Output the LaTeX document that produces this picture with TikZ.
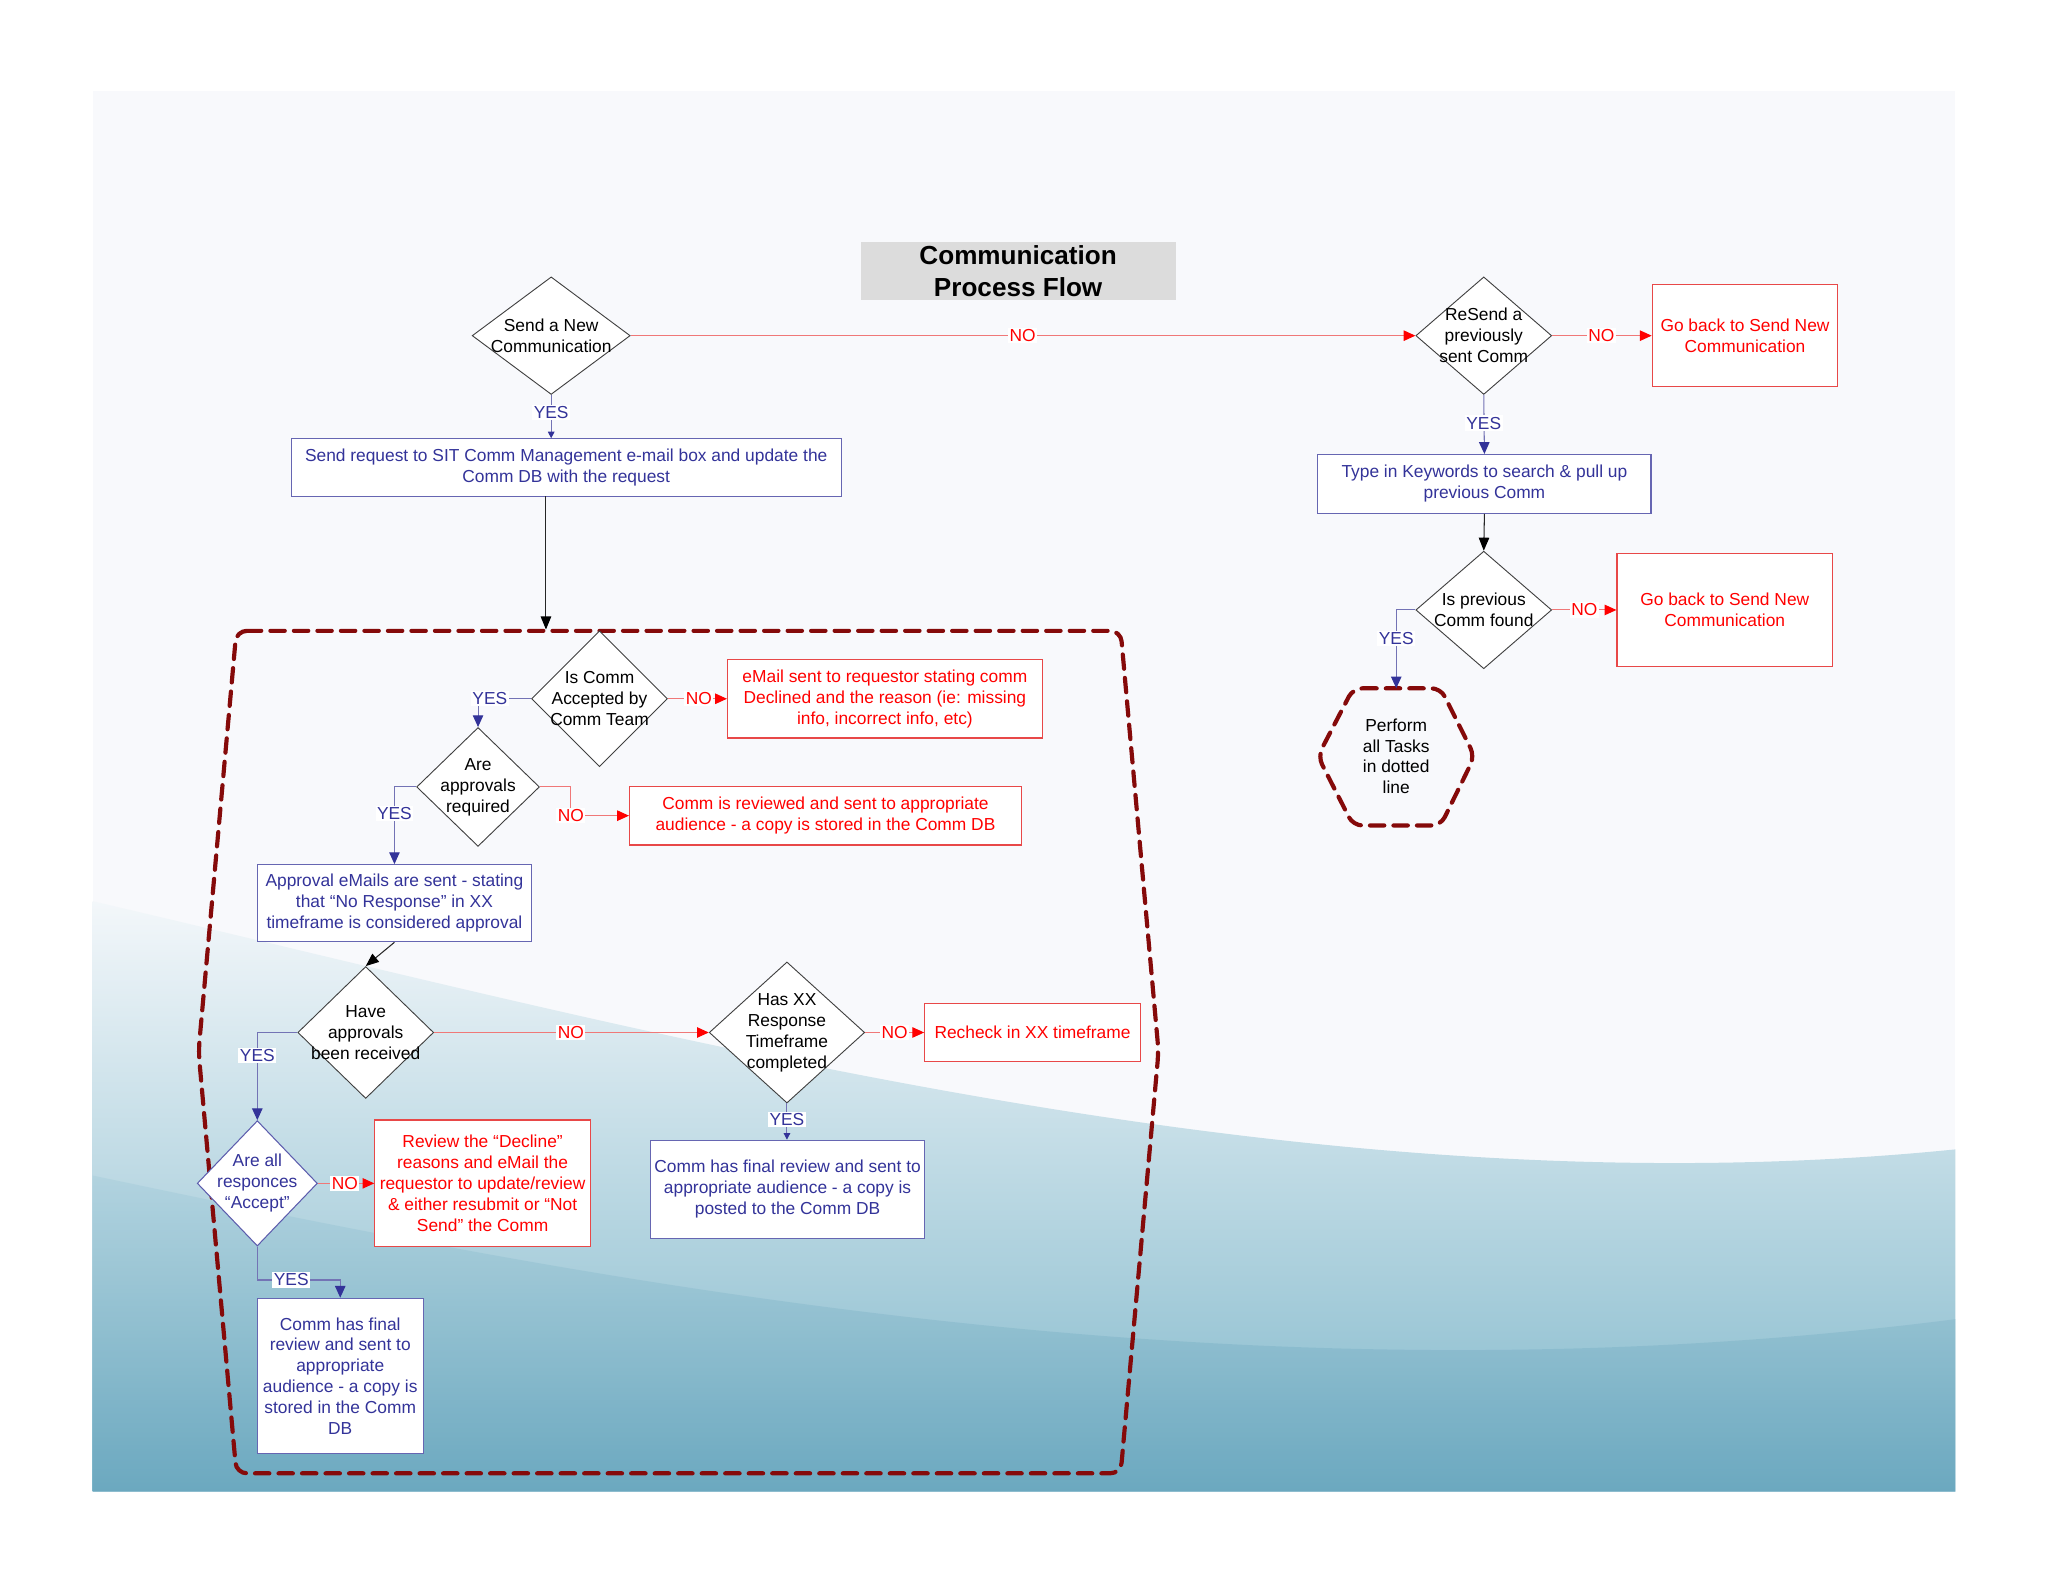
\documentclass[tikz,border=0pt]{standalone}
\usepackage{fontspec}
\setmainfont{Liberation Sans}
\usetikzlibrary{shapes.geometric,arrows.meta,calc}
\definecolor{tblue}{HTML}{333399}
\definecolor{lblue}{HTML}{7373B5}
\definecolor{tred}{HTML}{FF0000}
\definecolor{lred}{HTML}{F07878}
\definecolor{bred}{HTML}{E84848}
\definecolor{dred}{HTML}{850A0A}
\definecolor{dgray}{HTML}{404040}
\definecolor{tgray}{HTML}{DCDCDC}
\definecolor{bgtop}{HTML}{F8F9FC}
\definecolor{bgwave}{HTML}{F3F7FA}
\definecolor{teal1}{HTML}{7FB7CA}
\definecolor{teal2}{HTML}{5C9DB7}
\definecolor{teal3}{HTML}{A9CFDC}
\begin{document}
\begin{tikzpicture}[x=1pt,y=-1pt,
  font=\fontsize{13.3}{16}\selectfont,
  dia/.style={diamond, draw=dgray, line width=0.7pt, fill=white, inner sep=0pt},
  bluedia/.style={diamond, draw=tblue!80, line width=0.8pt, fill=white, inner sep=0pt},
  txt/.style={align=center, inner sep=0pt},
  bbox/.style={draw=tblue!75, fill=white, line width=0.9pt, align=center, text=tblue, inner sep=0pt},
  rbox/.style={draw=bred, fill=white, line width=0.9pt, align=center, text=tred, inner sep=0pt},
  yesline/.style={draw=lblue, line width=0.8pt, -{Triangle[length=9pt,width=8pt,color=tblue]}},
  smallyes/.style={draw=lblue, line width=0.8pt, -{Triangle[length=5pt,width=5pt,color=tblue]}},
  noline/.style={draw=lred, line width=0.8pt, -{Triangle[length=9pt,width=8pt,color=tred]}},
  blkline/.style={draw=black!85, line width=0.8pt, -{Triangle[length=10pt,width=8pt,color=black]}},
  yeslab/.style={fill=white, inner sep=1.2pt, text=tblue},
  nolab/.style={fill=white, inner sep=1.2pt, text=tred},
  dashreg/.style={draw=dred, line width=3.2pt, dash pattern=on 11pt off 7pt, line cap=round, rounded corners=8pt}
]
\useasboundingbox (0,0) rectangle (1568,1214);
\fill[white] (0,0) rectangle (1568,1214);
% background
\fill[bgtop] (71,70) rectangle (1497,1142);
\shade[top color=bgwave, bottom color=teal1]
  (71,690) .. controls (500,790) and (1000,930) .. (1497,880) -- (1497,1142) -- (71,1142) -- cycle;
\shade[top color=teal3, bottom color=teal2, opacity=0.55]
  (71,900) .. controls (450,980) and (950,1080) .. (1497,1010) -- (1497,1142) -- (71,1142) -- cycle;

% title
\node[fill=tgray, minimum width=241pt, minimum height=45pt, align=center, inner sep=0pt,
  font=\fontsize{20}{24}\selectfont\bfseries] (title) at (779.5,207.5) {Communication\\Process Flow};

% dashed region
\draw[dashreg] (181,483) -- (858,483) -- (887,805) -- (858,1128) -- (181,1128) -- (152,805) -- cycle;

% small hexagon
\draw[dashreg, rounded corners=7pt] (1036,527) -- (1103,527) -- (1129,579) -- (1103,632) -- (1036,632) -- (1009,579) -- cycle;
\node[txt] (hex) at (1069,579) {Perform\\all Tasks\\in dotted\\line};
\coordinate (hextop) at (1069,527);

% diamonds
\node[dia, minimum width=121pt, minimum height=90pt] (d1) at (422,257) {};
\node[txt] (d1t) at (d1) {Send a New\\Communication};
\node[dia, minimum width=104pt, minimum height=90pt] (d2) at (1136,257) {};
\node[txt] (d2t) at (d2) {ReSend a\\previously\\sent Comm};
\node[dia, minimum width=104pt, minimum height=90pt] (d3) at (1136,467) {};
\node[txt] (d3t) at (d3) {Is previous\\Comm found};
\node[dia, minimum width=104pt, minimum height=104pt] (d4) at (459,535) {};
\node[txt] (d4t) at (d4) {Is Comm\\Accepted by\\Comm Team};
\node[dia, minimum width=94pt, minimum height=91pt] (d5) at (366,602.5) {};
\node[txt] (d5t) at (d5) {Are\\approvals\\required};
\node[dia, minimum width=104pt, minimum height=101pt] (d6) at (280,790.5) {};
\node[txt] (d6t) at (d6) {Have\\approvals\\been received};
\node[dia, minimum width=119pt, minimum height=108pt] (d7) at (602.5,790.5) {};
\node[txt] (d7t) at (d7) {Has XX\\Response\\Timeframe\\completed};
\node[bluedia, minimum width=92pt, minimum height=96pt] (d8) at (197,906) {};
\node[txt, text=tblue] (d8t) at (d8) {Are all\\responces\\“Accept”};

% boxes
\node[bbox, minimum width=421pt, minimum height=44pt] (rsend) at (433.5,358) {Send request to SIT Comm Management e-mail box and update the\\Comm DB with the request};
\node[rbox, minimum width=142pt, minimum height=78pt] (r1) at (1336,257) {Go back to Send New\\Communication};
\node[bbox, minimum width=255pt, minimum height=45pt] (r2) at (1136.5,370.5) {Type in Keywords to search \& pull up\\previous Comm};
\node[rbox, minimum width=165pt, minimum height=86pt] (r3) at (1320.5,467) {Go back to Send New\\Communication};
\node[rbox, minimum width=241pt, minimum height=60pt] (r4) at (677.5,535) {eMail sent to requestor stating comm\\Declined and the reason (ie: missing\\info, incorrect info, etc)};
\node[rbox, minimum width=300pt, minimum height=45pt] (r5) at (632,624.5) {Comm is reviewed and sent to appropriate\\audience - a copy is stored in the Comm DB};
\node[bbox, minimum width=210pt, minimum height=59pt] (r6) at (302,691.5) {Approval eMails are sent - stating\\that “No Response” in XX\\timeframe is considered approval};
\node[rbox, minimum width=165pt, minimum height=45pt] (r7) at (790.5,790.5) {Recheck in XX timeframe};
\node[bbox, minimum width=210pt, minimum height=75pt] (r8) at (603,910.5) {Comm has final review and sent to\\appropriate audience - a copy is\\posted to the Comm DB};
\node[rbox, minimum width=165pt, minimum height=97pt] (r9) at (369.5,906) {Review the “Decline”\\reasons and eMail the\\requestor to update/review\\\& either resubmit or “Not\\Send” the Comm};
\node[bbox, minimum width=127pt, minimum height=119pt] (r10) at (260.5,1053.5) {Comm has final\\review and sent to\\appropriate\\audience - a copy is\\stored in the Comm\\DB};

% helper coordinates
\coordinate (a1) at (418,380);
\coordinate (a2) at (418,482);
\coordinate (c5) at (437,624.5);
\coordinate (c8) at (260.5,980);

% connectors
\draw[noline] (d1.east) -- (d2.west);
\draw[noline] (d2.east) -- (r1.west);
\draw[yesline] (d2.south) -- (r2.north);
\draw[blkline] (r2.south) -- (d3.north);
\draw[noline] (d3.east) -- (r3.west);
\draw[yesline] (d3.west) -| (hextop);
\draw[smallyes] (d1.south) -- (d1.south |- rsend.north);
\draw[blkline] (a1) -- (a2);
\draw[noline] (d4.east) -- (r4.west);
\draw[yesline] (d4.west) -| (d5.north);
\draw[noline] (d5.east) -| (c5) -- (r5.west);
\draw[yesline] (d5.west) -| (r6.north);
\draw[blkline] (r6.south) -- (d6.north);
\draw[noline] (d6.east) -- (d7.west);
\draw[noline] (d7.east) -- (r7.west);
\draw[smallyes] (d7.south) -- (d7.south |- r8.north);
\draw[yesline] (d6.west) -| (d8.north);
\draw[noline] (d8.east) -- (r9.west);
\draw[yesline] (d8.south) |- (c8) -- (r10.north);

% labels
\node[nolab] (l1) at (783,257) {NO};
\node[nolab] (l2) at (1226,257) {NO};
\node[yeslab] (l3) at (1136,324) {YES};
\node[nolab] (l4) at (1213,467) {NO};
\node[yeslab] (l5) at (1069,489) {YES};
\node[yeslab] (l6) at (422,316) {YES};
\node[nolab] (l7) at (535,535) {NO};
\node[yeslab] (l8) at (375,535) {YES};
\node[nolab] (l9) at (437,624.5) {NO};
\node[yeslab] (l10) at (302,623) {YES};
\node[nolab] (l11) at (437,790.5) {NO};
\node[nolab] (l12) at (685,790.5) {NO};
\node[yeslab] (l13) at (602.5,857) {YES};
\node[yeslab] (l14) at (197,808) {YES};
\node[nolab] (l15) at (264,906) {NO};
\node[yeslab] (l16) at (223,980) {YES};
\end{tikzpicture}
\end{document}
